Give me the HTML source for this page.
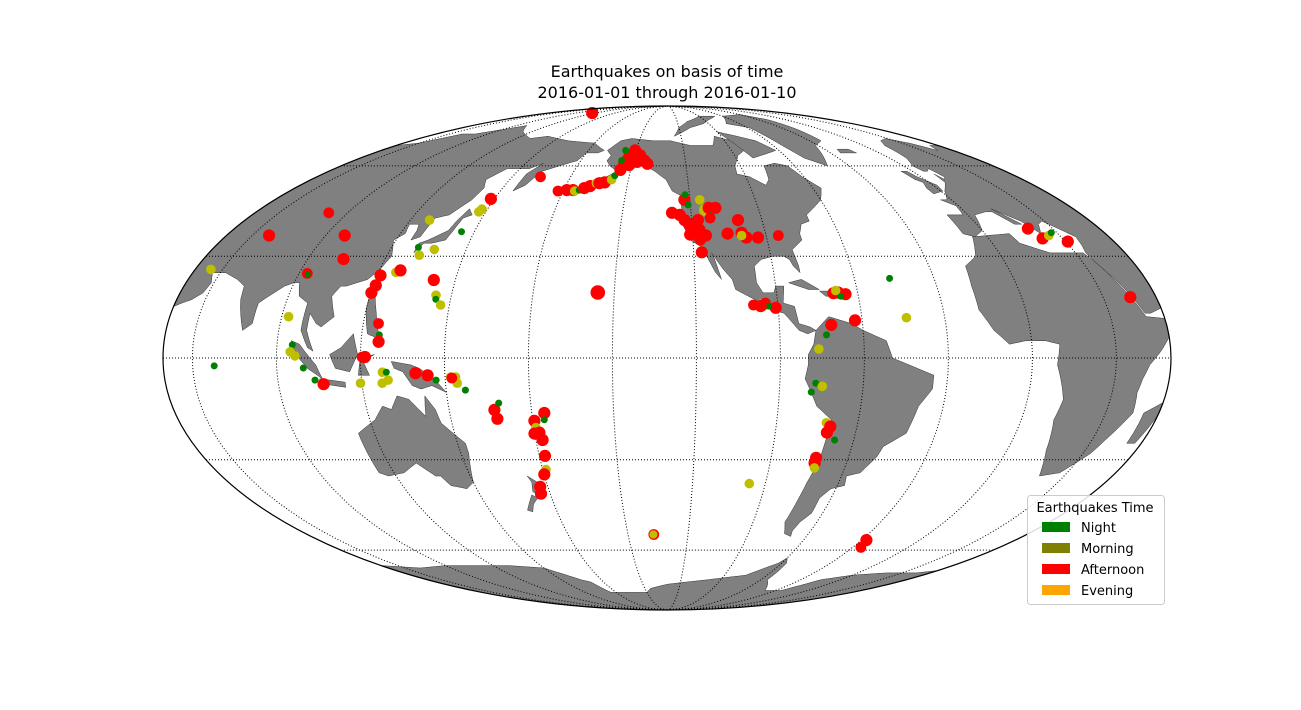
<!DOCTYPE html>
<html><head><meta charset="utf-8"><style>
html,body{margin:0;padding:0;background:#fff;}
svg{display:block;}
text{font-family:"DejaVu Sans","Liberation Sans",sans-serif;}
</style></head><body>
<svg id="chart" width="1301" height="710" viewBox="0 0 1301 710" xmlns="http://www.w3.org/2000/svg">
<rect width="1301" height="710" fill="#fff"/>
<text x="667" y="77" text-anchor="middle" font-size="16" fill="#000">Earthquakes on basis of time</text>
<text x="667" y="98" text-anchor="middle" font-size="16" fill="#000">2016-01-01 through 2016-01-10</text>
<g id="land"></g>
<g id="grid"></g>
<g id="pts"></g>
<ellipse cx="667" cy="358" rx="504" ry="252" fill="none" stroke="#000" stroke-width="1.2"/>
<g>
<rect x="1027.5" y="495.5" width="137" height="109" rx="3" fill="#fff" fill-opacity="0.85" stroke="#ccc"/>
<text x="1095" y="512" text-anchor="middle" font-size="13">Earthquakes Time</text>
<rect x="1042" y="522" width="28" height="10" fill="#008000"/>
<text x="1081" y="532" font-size="13">Night</text>
<rect x="1042" y="543" width="28" height="10" fill="#808000"/>
<text x="1081" y="553" font-size="13">Morning</text>
<rect x="1042" y="564" width="28" height="10" fill="#ff0000"/>
<text x="1081" y="574" font-size="13">Afternoon</text>
<rect x="1042" y="585" width="28" height="10" fill="#ffa500"/>
<text x="1081" y="595" font-size="13">Evening</text>
</g>
</svg>
<script>
// ---- data ----
const lons = [115,164.5,177.5,-178.5,-175.5,-174.5,-172.5,-170.5,-168,-165.5,-164,-161.5,-158.5,-157.5,-155.5,-154.5,-153.5,-153,-150.5,-146.5,-143.5,-141.5,-156.5,-156.5,-151.5,-147.5,
-122.5,-121,-125,-123,-121,-119,-121,-117,-117.3,-113.7,-112,-110.5,-116.8,-117,-128.3,-109,-122,-115.5,-112,-114.6,
-100.2,-99.8,-98.2,-105.6,-93.5,-85,-100,
-98.9,-95.6,-94.5,-90.9,-93.4,-96.3,
-69,-67.2,-64.6,-66.5,-68,-46.7,-43.9,
-62.6,-71.3,-73.3,-76.2,-77.1,-78.5,-74.7,-71.6,-69.9,-70.7,-67.2,-72.5,-72.5,-72,-27.5,-25.5,-96.6,
19.7,21.9,25.5,27.7,30.9,40,
66.9,97.8,103.9,81.7,55.5,67.7,93.1,93.5,121.2,120.9,120.2,126.5,128,92.5,95.5,94.9,96.6,99.5,103.3,106.2,119.5,121.6,120.6,125.5,126.3,126.3,127.7,129.1,127.3,129.5,139.5,143.8,146.7,152,153.8,154.2,156.9,152.4,
128.2,137.4,130.7,132.6,144.7,141.9,144.3,144.6,146.8,147,147.6,148.4,
-156.1,
166.5,167.1,168.4,-179.4,-179.2,-175.4,-175.7,-178.2,179.9,-177.5,-177.8,-178.7,-179.9,176.8,176.1,-137.1,-137.3];
const lats = [84,56,51,51.3,51.3,51,51.3,52,52.7,53.7,53.7,54,55,56.4,58.5,60.8,62,64,66,64,62,60.8,62,66,60.3,61.5,
48,46.3,43,41.3,39.7,38.2,36.7,35.2,41.3,44.6,45.3,44.6,31.2,38.2,43.7,45.3,49.7,48,42,36.4,
41.3,37.3,35.8,37,35.8,36.4,36.4,
15.4,15.4,16,14.6,15.1,15.1,
18.9,19.1,18.6,18,19.7,23.3,11.7,
10.9,9.6,6.7,2.6,-7.3,-9.9,-8.2,-18.9,-20,-21.8,-24,-29.4,-31,-32.5,-56.3,-59,-37.4,
38.6,35.5,36.4,37.3,34.5,17.7,
36.4,36.4,29.1,43.7,26,-2.3,24.8,24.5,24.2,21.2,19,25.1,25.7,12,3.8,1.8,0.6,-2.9,-6.4,-7.6,-7.3,0.3,0.3,10,6.7,4.7,-4.1,-4.1,-7.3,-6.4,-4.4,-5,-6.4,-5.5,-5.5,-7.3,-9.3,-5.8,
41.3,32.1,32.7,30.3,37.6,22.8,18.3,17.1,15.4,44,44.9,48.3,
19.1,
-15.1,-17.7,-13.1,-18.3,-20.3,-16,-18,-21.8,-22.1,-24,-28.8,-33,-34.5,-38.4,-40.6,-54.3,-54.3];
// 0 = night, 1 = morning, 2 = afternoon
const periods = [2,2,2,2,2,1,0,2,2,1,2,2,1,0,2,2,2,2,2,2,2,2,0,0,2,2,
2,0,2,2,2,2,2,2,2,1,2,0,2,2,2,2,0,1,2,2,
2,2,2,2,2,2,1,
2,1,2,2,0,2,
2,2,2,0,1,0,1,
2,2,0,1,0,0,1,1,2,2,0,2,2,1,2,2,1,
2,2,1,0,2,2,
2,2,2,2,1,0,2,0,2,2,2,1,2,1,0,1,1,0,0,2,1,2,2,2,0,2,1,0,1,1,2,2,0,1,1,1,0,2,
1,1,0,1,0,2,1,0,1,1,1,2,
2,
2,2,0,2,1,2,0,2,2,2,2,1,2,2,2,2,1];
const mags = [5,4.8,4.8,5,5,4.6,4.2,5,5,4.6,5,5,4.6,4.2,5,5,5,5,5,5,5,5,4.2,4.2,5,5,
5,4.2,5,5,5,5,5,5,5,5,5,4.2,5,5,5,5,4.2,4.6,4.8,5,
5,5,5,5,5,4.8,4.6,
4.8,5,4.8,5,4.2,5,
5,5,5,4.2,4.6,4.2,4.6,
5,5,4.2,4.6,4.2,4.2,4.6,4.6,5,5,4.2,5,5,4.6,5,4.8,4.6,
5,5,4.6,4.2,5,5,
5,5,5,4.8,4.6,4.2,4.8,4.0,5,5,5,4.6,5,4.6,4.2,4.6,4.6,4.2,4.2,5,4.6,5,4.8,4.8,4.2,5,4.6,4.2,4.6,4.6,5,5,4.2,4.6,4.6,4.6,4.2,4.8,
4.6,4.6,4.2,4.6,4.2,5,4.6,4.2,4.6,4.6,4.6,5,
5.4,
5,5,4.2,5,4.6,5,4.2,5,5,5,5,4.6,5,5,5,4.8,4.4];
const periodColors = ['#008000','#bfbf00','#ff0000'];

// ---- projection (Mollweide, lon_0 = -130.5) ----
const LON0 = -130.5, CX = 667, CY = 358, RX = 504, RY = 252;
function proj(lon, lat){
  let d = ((lon - LON0 + 540) % 360) - 180;
  const phi = lat*Math.PI/180;
  let th = phi;
  if (Math.abs(lat) > 89.999) th = Math.sign(lat)*Math.PI/2;
  else { for (let i=0;i<40;i++){ const f=2*th+Math.sin(2*th)-Math.PI*Math.sin(phi); const df=2+2*Math.cos(2*th); if(Math.abs(df)<1e-9)break; th-=f/df; } }
  return [CX + RX*(d/180)*Math.cos(th), CY - RY*Math.sin(th)];
}
const NS='http://www.w3.org/2000/svg';
function ringPath(pts){
  let s='';
  for(let i=0;i<pts.length;i++){
    const a=pts[i], b=pts[(i+1)%pts.length];
    const n=6;
    for(let k=0;k<n;k++){
      const t=k/n; const p=proj(a[0]+(b[0]-a[0])*t, a[1]+(b[1]-a[1])*t);
      s+=(s?'L':'M')+p[0].toFixed(1)+','+p[1].toFixed(1);
    }
  }
  return s+'Z';
}
// ---- land polygons (rough) ----
const A=49.6, B=49.4;
const landPolys = {
 asia:[[A,68],[60,69],[70,73],[80,73],[100,77],[113,74],[130,71],[140,72],[160,70],[180,69],[190,66],[187,65],[180,65],[178,62],[170,60],[163,58],[160,53],[156,51],[156,57],[160,61],[155,59],[143,59],[138,55],[141,52],[140,48],[135,43],[130,42],[129,36],[126,35],[126,38],[125,40],[121,40],[122,37],[119,35],[121,32],[122,30],[120,26],[117,23],[110,21],[108,21],[106,18],[109,12],[105,9],[103,10],[100,13],[100,8],[103,2],[101,3],[98,8],[98,16],[94,18],[92,22],[90,22],[87,21],[80,16],[80,10],[77,8],[73,17],[72,21],[68,23],[62,25],[57,25],[59,22],[58,19],[55,17],[52,16],[A,15],[A,30],[A,45]],
 japan:[[130,31],[132,34],[135,34],[140,35],[141,38],[142,42],[145,43],[142,45],[140,41],[139,38],[137,37],[133,35],[130,34]],
 phil:[[120,18],[122,18],[124,13],[126,7],[125,6],[122,7],[120,14]],
 borneo:[[109,1],[111,-3],[116,-4],[119,1],[117,7],[113,3]],
 sumatra:[[95,5],[98,4],[104,-2],[106,-6],[101,-3],[97,1]],
 java:[[105,-6],[114,-7],[114,-8.5],[106,-7.5]],
 sulawesi:[[119,-5],[120,0],[125,1],[121,-1],[123,-5]],
 guinea:[[131,-1],[138,-2],[141,-3],[146,-6],[150,-10],[145,-8],[141,-9],[138,-8],[135,-4],[132,-3]],
 australia:[[114,-22],[114,-34],[117,-35],[124,-34],[131,-31],[136,-35],[138,-35],[140,-38],[146,-39],[150,-37],[153,-28],[153,-25],[146,-19],[145,-15],[142,-11],[141,-17],[136,-12],[132,-11],[129,-15],[126,-14],[122,-18]],
 nzn:[[173,-35],[178,-38],[175,-41],[173,-40],[174,-37]],
 nzs:[[172,-41],[174,-42],[171,-44],[169,-46.5],[167,-46],[169,-44]],
 namerica:[[-168,66],[-163,70],[-156,71],[-140,70],[-128,70],[-115,68],[-100,68],[-95,72],[-85,70],[-82,66],[-88,64],[-93,60],[-94,57],[-88,56],[-82,53],[-79,55],[-77,60],[-70,61],[-64,60],[-61,56],[-56,52],[-60,48],[-66,45],[-70,43],[-70,41],[-74,40],[-76,37],[-76,35],[-81,32],[-80,27],[-80,25],[-82,27],[-83,29],[-85,30],[-89,30],[-94,29],[-97,27],[-97,22],[-95,19],[-91,19],[-90,21],[-87,21],[-88,16],[-84,15],[-83,10],[-79,9],[-77,8],[-80,7],[-83,8],[-86,11],[-88,13],[-92,14],[-96,16],[-105,20],[-106,23],[-109,26],[-113,31],[-112,29],[-110,23],[-112,25],[-115,30],[-117,33],[-121,35],[-124,40],[-124,47],[-123,49],[-128,51],[-131,55],[-137,58],[-142,60],[-147,61],[-152,59],[-158,57],[-164,55],[-157,58],[-162,60],[-165,62],[-164,64]],
 baffin:[[-80,63],[-62,66],[-68,70],[-78,72],[-90,74],[-85,69]],
 arctic:[[-125,72],[-110,76],[-95,78],[-85,80],[-70,82],[-90,82],[-110,79],[-120,76]],
 greenland:[[-73,78],[-60,82],[-30,83],[-20,80],[-20,75],[-22,70],[-32,68],[-42,60],[-50,63],[-54,68],[-58,76]],
 cuba:[[-85,22],[-80,23],[-74,20],[-78,20]],
 hispaniola:[[-74,19.5],[-69,19.5],[-68,18],[-72,18]],
 samerica:[[-77,8],[-72,12],[-64,10],[-60,8],[-52,5],[-50,0],[-44,-2],[-35,-5],[-35,-9],[-39,-14],[-41,-22],[-48,-26],[-49,-29],[-53,-34],[-58,-35],[-57,-38],[-62,-39],[-65,-42],[-65,-47],[-68,-50],[-69,-53],[-68,-55],[-72,-54],[-75,-50],[-74,-43],[-73,-37],[-71,-30],[-70,-18],[-76,-14],[-81,-6],[-80,-2],[-80,1],[-78,4]],
 africa:[[-17,21],[-16,27],[-10,30],[-6,36],[10,37],[11,34],[20,31],[30,31],[33,31],[35,28],[39,20],[43,12],[B,11.5],[B,6],[46,2],[42,-2],[40,-6],[39,-10],[40,-16],[35,-24],[33,-28],[30,-31],[27,-34],[20,-35],[18,-32],[15,-27],[12,-18],[13,-12],[9,-2],[10,4],[5,5],[-2,5],[-8,4],[-13,8],[-17,14]],
 madagascar:[[44,-25],[47,-25],[B,-17],[B,-13],[44,-16]],
 europe:[[-9,43],[-9,37],[-5,36],[0,38],[3,43],[9,44],[12,44],[16,40],[19,40],[13,45],[20,41],[23,37],[26,40],[29,41],[36,36],[35,33],[34,31],[35,28],[39,21],[43,13],[45,13],[B,14.5],[B,30],[B,50],[B,68],[44,68],[40,66],[35,69],[28,71],[20,70],[14,68],[10,63],[5,60],[6,58],[8,58],[11,59],[12,56],[10,55],[9,57],[8,54],[4,52],[2,51],[-2,48],[-5,48],[-1,46],[-2,43]],
 uk:[[-5,50],[1,51],[2,53],[-2,56],[-3,58],[-6,58],[-5,55],[-3,54],[-5,52]],
 iceland:[[-24,65],[-14,65],[-15,66.5],[-22,66.5]],
 antarctica:[[A,-66],[70,-67],[90,-66],[110,-66],[130,-66],[150,-67],[165,-72],[170,-73],[175,-78],[195,-78],[210,-78],[215,-76],[230,-74],[260,-72],[285,-70],[298,-65],[300,-63],[303,-65],[305,-72],[320,-77],[335,-77],[345,-72],[360,-70],[380,-69],[400,-69],[409.4,-68],[409.4,-80],[409.4,-90],[A,-90],[A,-80]]
};
const landG=document.getElementById('land');
for(const key in landPolys){
  const p=document.createElementNS(NS,'path');
  p.setAttribute('d',ringPath(landPolys[key]));
  p.setAttribute('fill','#808080');
  p.setAttribute('stroke','#333');
  p.setAttribute('stroke-width','0.5');
  
  
  landG.appendChild(p);
}
// ---- graticule ----
const meridians=[-180,-150,-120,-90,-60,-30,0,30,60,90,120,150];
const parallels=[-60,-30,0,30,60];
const gridG=document.getElementById('grid');
meridians.forEach(m=>{
  let s='';
  for(let la=-90;la<=90;la+=2){const p=proj(m,la);s+=(s?'L':'M')+p[0].toFixed(1)+','+p[1].toFixed(1);}
  const e=document.createElementNS(NS,'path');
  e.setAttribute('d',s);e.setAttribute('fill','none');e.setAttribute('stroke','#000');e.setAttribute('stroke-width','1');e.setAttribute('stroke-dasharray','1,2');
  
  
  gridG.appendChild(e);
});
parallels.forEach(pl=>{
  const a=proj(LON0-179.99,pl), b=proj(LON0+179.99,pl);
  const e=document.createElementNS(NS,'line');
  e.setAttribute('x1',a[0]);e.setAttribute('y1',a[1]);e.setAttribute('x2',b[0]);e.setAttribute('y2',b[1]);
  e.setAttribute('stroke','#000');e.setAttribute('stroke-width','1');e.setAttribute('stroke-dasharray','1,2');
  
  
  gridG.appendChild(e);
});
// ---- points ----
function radius(m){ return Math.max(2.5, 3.5 + (m-4.2)*3.2); }
const ptsG=document.getElementById('pts');
for(let i=0;i<lons.length;i++){
  const p=proj(lons[i],lats[i]);
  const c=document.createElementNS(NS,'circle');
  c.setAttribute('cx',p[0].toFixed(1));c.setAttribute('cy',p[1].toFixed(1));
  c.setAttribute('r',radius(mags[i]).toFixed(1));
  c.setAttribute('fill',periodColors[periods[i]]);
  
  
  ptsG.appendChild(c);
}
</script>
</body></html>
